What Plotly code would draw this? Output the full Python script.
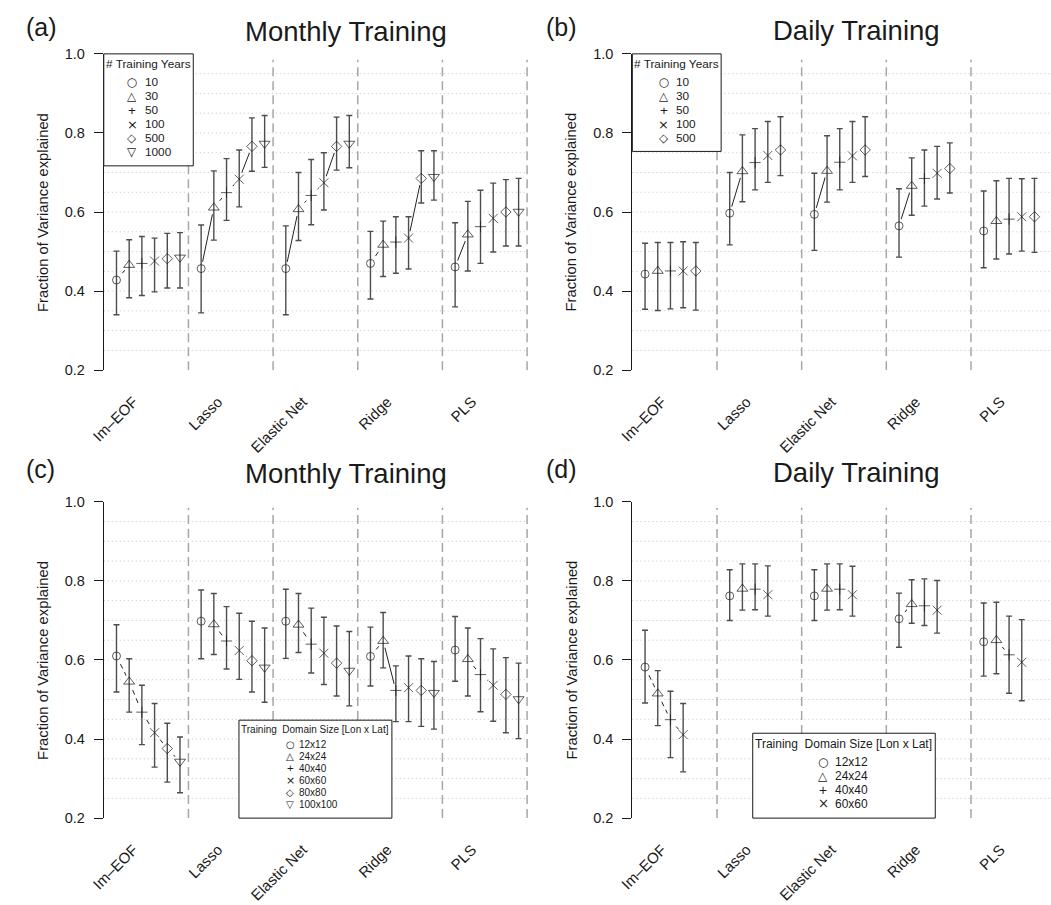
import plotly.graph_objects as go

# ---------------- data ----------------
METHODS = ["Im\u2013EOF", "Lasso", "Elastic Net", "Ridge", "PLS"]

YEARS_A = ["10", "30", "50", "100", "500", "1000"]
YEARS_B = ["10", "30", "50", "100", "500"]
DOMAINS_C = ["12x12", "24x24", "40x40", "60x60", "80x80", "100x100"]
DOMAINS_D = ["12x12", "24x24", "40x40", "60x60"]

# rows = series (legend entries), columns = METHODS
A_MEAN = [
    [0.428, 0.457, 0.457, 0.470, 0.461],
    [0.466, 0.611, 0.607, 0.517, 0.543],
    [0.470, 0.649, 0.642, 0.524, 0.563],
    [0.476, 0.683, 0.674, 0.534, 0.584],
    [0.482, 0.766, 0.766, 0.685, 0.600],
    [0.485, 0.773, 0.773, 0.689, 0.601],
]
A_HI = [
    [0.501, 0.567, 0.565, 0.551, 0.573],
    [0.530, 0.704, 0.700, 0.577, 0.627],
    [0.538, 0.735, 0.733, 0.588, 0.655],
    [0.534, 0.757, 0.750, 0.588, 0.673],
    [0.546, 0.838, 0.840, 0.755, 0.682],
    [0.548, 0.844, 0.844, 0.755, 0.685],
]
A_LO = [
    [0.340, 0.345, 0.340, 0.380, 0.360],
    [0.383, 0.529, 0.528, 0.437, 0.451],
    [0.389, 0.579, 0.568, 0.445, 0.470],
    [0.398, 0.613, 0.605, 0.456, 0.499],
    [0.408, 0.703, 0.706, 0.623, 0.514],
    [0.408, 0.713, 0.712, 0.630, 0.514],
]
# per method: 1 = solid connector between consecutive points, 0 = dashed
A_SOLID = [[0, 0, 0, 0, 0], [1, 0, 0, 1, 0], [1, 0, 0, 1, 0], [0, 0, 0, 1, 0], [1, 0, 0, 0, 0]]

B_MEAN = [
    [0.443, 0.597, 0.594, 0.565, 0.552],
    [0.451, 0.703, 0.704, 0.666, 0.577],
    [0.451, 0.725, 0.726, 0.685, 0.582],
    [0.451, 0.743, 0.742, 0.698, 0.588],
    [0.451, 0.757, 0.757, 0.710, 0.588],
]
B_HI = [
    [0.521, 0.700, 0.698, 0.659, 0.653],
    [0.523, 0.795, 0.793, 0.737, 0.679],
    [0.523, 0.811, 0.811, 0.757, 0.685],
    [0.525, 0.829, 0.829, 0.766, 0.684],
    [0.523, 0.841, 0.841, 0.775, 0.685],
]
B_LO = [
    [0.354, 0.517, 0.503, 0.486, 0.459],
    [0.351, 0.626, 0.625, 0.592, 0.481],
    [0.355, 0.656, 0.656, 0.615, 0.494],
    [0.358, 0.675, 0.675, 0.633, 0.501],
    [0.352, 0.692, 0.690, 0.648, 0.498],
]
B_SOLID = [[0, 0, 0, 0], [1, 0, 0, 0], [1, 0, 0, 0], [1, 0, 0, 0], [0, 0, 0, 0]]

C_MEAN = [
    [0.610, 0.698, 0.698, 0.609, 0.625],
    [0.545, 0.690, 0.689, 0.648, 0.602],
    [0.468, 0.648, 0.640, 0.523, 0.563],
    [0.416, 0.624, 0.617, 0.530, 0.536],
    [0.376, 0.598, 0.592, 0.523, 0.513],
    [0.343, 0.581, 0.573, 0.517, 0.501],
]
C_HI = [
    [0.689, 0.777, 0.779, 0.683, 0.710],
    [0.603, 0.768, 0.768, 0.720, 0.681],
    [0.536, 0.735, 0.731, 0.585, 0.654],
    [0.490, 0.718, 0.708, 0.610, 0.628],
    [0.440, 0.698, 0.686, 0.603, 0.606],
    [0.405, 0.681, 0.672, 0.596, 0.592],
]
C_LO = [
    [0.519, 0.603, 0.604, 0.534, 0.546],
    [0.468, 0.614, 0.619, 0.580, 0.509],
    [0.386, 0.577, 0.567, 0.444, 0.469],
    [0.329, 0.551, 0.538, 0.444, 0.445],
    [0.291, 0.519, 0.509, 0.432, 0.416],
    [0.264, 0.493, 0.484, 0.425, 0.401],
]
C_SOLID = [[0, 0, 0, 0, 0], [0, 0, 0, 0, 0], [0, 0, 0, 0, 0], [0, 1, 0, 0, 0], [0, 0, 0, 0, 0]]

D_MEAN = [
    [0.582, 0.762, 0.762, 0.704, 0.646],
    [0.515, 0.780, 0.780, 0.741, 0.650],
    [0.449, 0.779, 0.779, 0.737, 0.613],
    [0.411, 0.765, 0.765, 0.726, 0.594],
]
D_HI = [
    [0.675, 0.828, 0.828, 0.769, 0.744],
    [0.573, 0.843, 0.843, 0.803, 0.746],
    [0.521, 0.843, 0.843, 0.805, 0.711],
    [0.490, 0.838, 0.837, 0.801, 0.702],
]
D_LO = [
    [0.491, 0.700, 0.700, 0.632, 0.559],
    [0.434, 0.726, 0.726, 0.693, 0.565],
    [0.353, 0.727, 0.727, 0.687, 0.516],
    [0.317, 0.711, 0.711, 0.668, 0.497],
]
D_SOLID = [[0, 0, 0], [0, 0, 0], [0, 0, 0], [0, 0, 0], [0, 0, 0]]

Y_TICKS = [0.2, 0.4, 0.6, 0.8, 1.0]
Y_TICK_TEXT = ["0.2", "0.4", "0.6", "0.8", "1.0"]
GRID_Y = [0.25, 0.30, 0.35, 0.40, 0.45, 0.50, 0.55, 0.60, 0.65, 0.70, 0.75, 0.80, 0.85, 0.90, 0.95]

# ---------------- styling / geometry ----------------
W, H = 1051, 905
FONT = "Liberation Sans, Arial, Helvetica, sans-serif"
GLYPH_FONT = "DejaVu Sans, sans-serif"
INK = "#1a1a1a"
STEP = 0.15          # offset between series inside a method group
PXU = 85.8           # pixels per x unit
X0 = -0.15           # left edge of plot in x units
SEP_OFF = 0.85       # separator offset after each group start
TICK_OFF = 0.2

SYMBOLS = ["circle-open", "triangle-up-open", "cross-thin-open", "x-thin-open",
           "diamond-open", "triangle-down-open"]
SIZES = [8, 9.5, 8, 9, 8, 9.5]
GLYPHS = ["\u25cb", "\u25b3", "+", "\u00d7", "\u25c7", "\u25bd"]
GLYPH_SCALE = [1.0, 1.0, 1.15, 1.1, 1.0, 1.0]

panels = [
    dict(xa="x", ya="y", left=91, right=521, top=46.7, bottom=368.7,
         mean=A_MEAN, hi=A_HI, lo=A_LO, solid=A_SOLID, series=YEARS_A,
         title="Monthly Training", title_x=232, title_y=24.3, tag="(a)", tag_x=10, tag_y=19,
         ytitle_x=29.3,
         leg=dict(box=(91, 46.7, 181.7, 160.7), title="# Training Years", title_y=56.7,
                  size=11.8, sym_x=120, txt_x=130.5, row0=75.3, dy=14.35)),
    dict(xa="x2", ya="y2", left=626.7, right=1051, top=46.7, bottom=368.7,
         mean=B_MEAN, hi=B_HI, lo=B_LO, solid=B_SOLID, series=YEARS_B,
         title="Daily Training", title_x=767, title_y=22.7, tag="(b)", tag_x=537, tag_y=19,
         ytitle_x=565,
         leg=dict(box=(626.7, 46.7, 716.7, 146), title="# Training Years", title_y=56.7,
                  size=11.8, sym_x=658.5, txt_x=668.5, row0=75.3, dy=14.35)),
    dict(xa="x3", ya="y3", left=91, right=521, top=502.7, bottom=824.7,
         mean=C_MEAN, hi=C_HI, lo=C_LO, solid=C_SOLID, series=DOMAINS_C,
         title="Monthly Training", title_x=232, title_y=474.2, tag="(c)", tag_x=10, tag_y=469,
         ytitle_x=29.3,
         leg=dict(box=(228, 725, 383, 824.7),
                  title="Training\u00a0\u00a0Domain Size [Lon x Lat]", title_y=734.5,
                  size=10, sym_x=280, txt_x=287, row0=749.3, dy=12.3)),
    dict(xa="x4", ya="y4", left=626.7, right=1051, top=502.7, bottom=824.7,
         mean=D_MEAN, hi=D_HI, lo=D_LO, solid=D_SOLID, series=DOMAINS_D,
         title="Daily Training", title_x=767, title_y=472.5, tag="(d)", tag_x=537, tag_y=469,
         ytitle_x=565,
         leg=dict(box=(748.7, 738.3, 933.7, 824.7),
                  title="Training\u00a0\u00a0Domain Size [Lon x Lat]", title_y=749.5,
                  size=12, sym_x=820, txt_x=830, row0=767.7, dy=14.2)),
]

fig = go.Figure()
shapes = []
annotations = []


def px_x(p):
    return p / W


def px_y(p):
    return 1 - p / H


for P in panels:
    xa, ya = P["xa"], P["ya"]
    n = len(P["series"])
    xs, ys, syms, sizes, ep, em = [], [], [], [], [], []
    for j in range(n):
        for g in range(len(METHODS)):
            v = P["mean"][j][g]
            xs.append(g + j * STEP)
            ys.append(v)
            syms.append(SYMBOLS[j])
            sizes.append(SIZES[j])
            ep.append(P["hi"][j][g] - v)
            em.append(v - P["lo"][j][g])

    sol_x, sol_y, das_x, das_y = [], [], [], []
    for g in range(len(METHODS)):
        for j in range(n - 1):
            seg_x = [g + j * STEP, g + (j + 1) * STEP, None]
            seg_y = [P["mean"][j][g], P["mean"][j + 1][g], None]
            if P["solid"][g][j]:
                sol_x += seg_x
                sol_y += seg_y
            else:
                das_x += seg_x
                das_y += seg_y
    fig.add_trace(go.Scatter(x=das_x, y=das_y, mode="lines", xaxis=xa, yaxis=ya,
                             line=dict(color="#222222", width=1, dash="5px,4px"),
                             showlegend=False, hoverinfo="skip"))
    fig.add_trace(go.Scatter(x=sol_x, y=sol_y, mode="lines", xaxis=xa, yaxis=ya,
                             line=dict(color="#222222", width=1),
                             showlegend=False, hoverinfo="skip"))
    # white halo around points (gap like R type="b")
    fig.add_trace(go.Scatter(x=xs, y=ys, mode="markers", xaxis=xa, yaxis=ya,
                             marker=dict(symbol="circle", size=14, color="white",
                                         line=dict(width=0)),
                             showlegend=False, hoverinfo="skip"))
    # error bars
    fig.add_trace(go.Scatter(x=xs, y=ys, mode="markers", xaxis=xa, yaxis=ya,
                             marker=dict(size=1, color="rgba(0,0,0,0)"),
                             error_y=dict(type="data", symmetric=False, array=ep, arrayminus=em,
                                          color="#4d4d4d", thickness=1.4, width=3),
                             showlegend=False, hoverinfo="skip"))
    # markers
    fig.add_trace(go.Scatter(x=xs, y=ys, mode="markers", xaxis=xa, yaxis=ya,
                             marker=dict(symbol=syms, size=sizes, color=INK,
                                         line=dict(width=1, color=INK)),
                             showlegend=False))

    xr = [X0, X0 + (P["right"] - P["left"]) / PXU]
    xkey = "xaxis" + xa[1:]
    ykey = "yaxis" + ya[1:]
    fig.layout[xkey] = dict(domain=[px_x(P["left"]), px_x(P["right"])], range=xr,
                            anchor=ya, showgrid=False, zeroline=False, showline=False,
                            ticks="", tickmode="array",
                            tickvals=[g + TICK_OFF for g in range(len(METHODS))],
                            ticktext=METHODS, tickangle=-45,
                            tickfont=dict(family=FONT, size=15, color=INK),
                            ticklabelstandoff=19)
    fig.layout[ykey] = dict(domain=[px_y(P["bottom"]), px_y(P["top"])], range=[0.2, 1.0],
                            anchor=xa, showgrid=False, zeroline=False, showline=True,
                            linecolor=INK, linewidth=1, ticks="outside", ticklen=9,
                            tickwidth=1, tickcolor=INK, tickmode="array",
                            tickvals=Y_TICKS, ticktext=Y_TICK_TEXT,
                            tickfont=dict(family=FONT, size=14.5, color=INK),
                            ticklabelstandoff=6)

    # dotted horizontal gridlines
    for gy in GRID_Y:
        shapes.append(dict(type="line", xref=xa + " domain", yref=ya, x0=0, x1=1, y0=gy, y1=gy,
                           line=dict(color="#c4c4c4", width=1, dash="1px,3px"), layer="below"))
    # dashed group separators
    for g in range(len(METHODS)):
        sx = g + SEP_OFF
        if sx <= xr[1] + 1e-9:
            shapes.append(dict(type="line", xref=xa, yref=ya, x0=sx, x1=sx, y0=0.2, y1=0.985,
                               line=dict(color="#a6a6a6", width=1.5, dash="9px,5px"),
                               layer="below"))

    annotations.append(dict(text=P["title"], x=px_x(P["title_x"]), y=px_y(P["title_y"]),
                            xref="paper", yref="paper", xanchor="left", yanchor="middle",
                            showarrow=False, font=dict(family=FONT, size=27.5, color=INK)))
    annotations.append(dict(text=P["tag"], x=px_x(P["tag_x"]), y=px_y(P["tag_y"]),
                            xref="paper", yref="paper", xanchor="left", yanchor="middle",
                            showarrow=False, font=dict(family=FONT, size=25, color=INK)))
    annotations.append(dict(text="Fraction of Variance explained", textangle=-90,
                            x=px_x(P["ytitle_x"]), y=px_y((P["top"] + P["bottom"]) / 2),
                            xref="paper", yref="paper", xanchor="center", yanchor="middle",
                            showarrow=False, font=dict(family=FONT, size=14.8, color=INK)))

    # legend box
    L = P["leg"]
    bx0, by0, bx1, by1 = L["box"]
    shapes.append(dict(type="rect", xref="paper", yref="paper",
                       x0=px_x(bx0), x1=px_x(bx1), y0=px_y(by1), y1=px_y(by0),
                       line=dict(color=INK, width=1), fillcolor="white", layer="above"))
    annotations.append(dict(text=L["title"], x=px_x((bx0 + bx1) / 2), y=px_y(L["title_y"]),
                            xref="paper", yref="paper", xanchor="center", yanchor="middle",
                            showarrow=False, font=dict(family=FONT, size=L["size"], color=INK)))
    for j, lab in enumerate(P["series"]):
        ry = L["row0"] + j * L["dy"]
        gfont = GLYPH_FONT if GLYPHS[j] != "+" else FONT
        annotations.append(dict(text=GLYPHS[j], x=px_x(L["sym_x"]), y=px_y(ry),
                                xref="paper", yref="paper", xanchor="center", yanchor="middle",
                                showarrow=False,
                                font=dict(family=gfont, size=L["size"] * GLYPH_SCALE[j], color=INK)))
        annotations.append(dict(text=lab, x=px_x(L["txt_x"]), y=px_y(ry),
                                xref="paper", yref="paper", xanchor="left", yanchor="middle",
                                showarrow=False, font=dict(family=FONT, size=L["size"], color=INK)))

fig.update_layout(width=W, height=H, margin=dict(l=0, r=0, t=0, b=0),
                  paper_bgcolor="white", plot_bgcolor="white", showlegend=False,
                  shapes=shapes, annotations=annotations,
                  font=dict(family=FONT, color=INK))

fig.write_html("out.html")
